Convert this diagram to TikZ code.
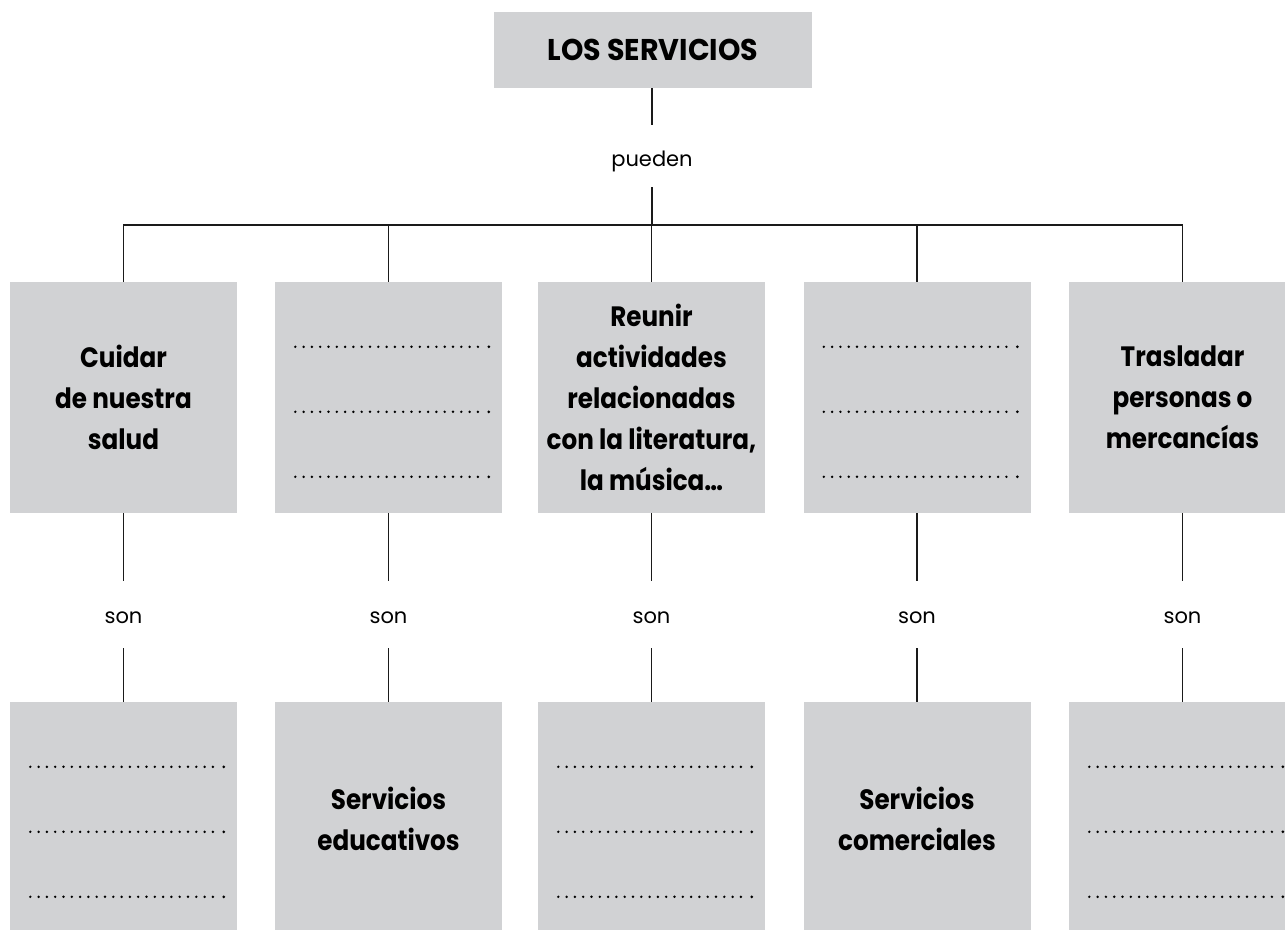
\documentclass[tikz,border=0pt]{standalone}
\usepackage{fontspec}
\setmainfont{Poppins}
\newfontfamily\boxfont{Poppins}[FakeStretch=0.88]
\newfontfamily\topfont{Poppins}[FakeStretch=0.95]
\definecolor{boxgray}{HTML}{D1D2D4}
\definecolor{linegray}{HTML}{1A1A1A}
\begin{document}
\begin{tikzpicture}[x=1pt,y=-1pt,
  bigbox/.style={fill=boxgray,draw=none,minimum width=227pt,minimum height=231pt,inner sep=0pt,
     align=center,font=\boxfont\fontsize{28}{41}\selectfont\bfseries},
  topbox/.style={fill=boxgray,draw=none,minimum width=318pt,minimum height=76pt,inner sep=0pt,
     font=\topfont\fontsize{30}{34}\selectfont\bfseries},
  lbl/.style={inner sep=0pt,text depth=0pt,font=\fontsize{21}{24}\selectfont},
  conn/.style={draw=linegray,line width=1.3pt},
  dotc/.style={fill=black,draw=none}]
\useasboundingbox (0,0) rectangle (1285,929);
\node[topbox] (top) at (653,50) {\raisebox{-1pt}{LOS SERVICIOS}};
\node[lbl,minimum height=62pt,text height=21pt] (pueden) at (652,156) {pueden};
\coordinate (hub) at (652,225);
% row 1
\node[bigbox] (a1) at (123.5,397.5) {Cuidar\\de nuestra\\salud};
\node[bigbox] (a2) at (388.5,397.5) {};
\node[bigbox] (a3) at (651.5,397.5) {Reunir\\actividades\\relacionadas\\con la literatura,\\la música…};
\node[bigbox] (a4) at (917,397.5) {};
\node[bigbox] (a5) at (1182.5,397.5) {Trasladar\\personas o\\mercancías};
% son labels
\foreach \i/\x in {1/123.5,2/388.5,3/651.5,4/917,5/1182.5}{
  \node[lbl,minimum height=67pt,text height=17pt] (s\i) at (\x,614.5) {son};
}
% row 2
\node[bigbox,minimum height=233pt] (b1) at (123.5,818.5) {};
\node[bigbox,minimum height=233pt] (b2) at (388.5,818.5) {Servicios\\educativos};
\node[bigbox,minimum height=233pt] (b3) at (651.5,818.5) {};
\node[bigbox,minimum height=233pt] (b4) at (917,818.5) {Servicios\\comerciales};
\node[bigbox,minimum height=233pt] (b5) at (1182.5,818.5) {};
% dotted lines
\foreach \n in {a2,a4,b1,b3,b5}{
  \foreach \dy in {65,130,195}{
    \foreach \k in {0,...,22}{
      \fill[dotc] ([xshift=20.5pt+\k*8.3pt,yshift=-\dy pt]\n.north west) circle (1.35pt);
    }
    \fill[dotc] ([xshift=214pt,yshift=-\dy pt]\n.north west) circle (1.5pt);
  }
}
% connectors
\draw[conn] (pueden.north |- top.south) -- (pueden.north);
\draw[conn] (pueden.south) -- (hub);
\draw[conn] (a1.north) -- (a1.north |- hub) -- (a5.north |- hub) -- (a5.north);
\foreach \i in {2,3,4}{
  \draw[conn] (a\i.north) -- (a\i.north |- hub);
}
\foreach \i in {1,...,5}{
  \draw[conn] (a\i.south) -- (s\i.north);
  \draw[conn] (s\i.south) -- (b\i.north);
}
\end{tikzpicture}
\end{document}
